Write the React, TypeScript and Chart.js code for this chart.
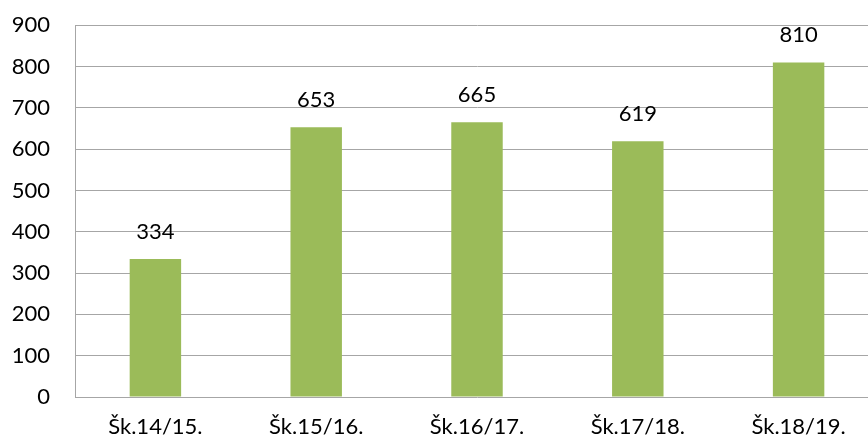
import React, { useEffect, useRef } from "react";
import { Chart, registerables } from "chart.js";

Chart.register(...registerables);

const categories = ["Šk.14/15.", "Šk.15/16.", "Šk.16/17.", "Šk.17/18.", "Šk.18/19."];
const values = [334, 653, 665, 619, 810];
const yTicks = [0, 100, 200, 300, 400, 500, 600, 700, 800, 900];

const FONT = "Lato, 'Open Sans', sans-serif";

const labelPlugin = {
  id: "barLabels",
  afterDatasetsDraw(chart: any) {
    const ctx = chart.ctx;
    const meta = chart.getDatasetMeta(0);
    ctx.save();
    ctx.fillStyle = "#000000";
    ctx.font = `22px ${FONT}`;
    ctx.textAlign = "center";
    ctx.textBaseline = "middle";
    meta.data.forEach((bar: any, i: number) => {
      ctx.fillText(String(values[i]), bar.x, bar.y - 27);
    });
    ctx.restore();
  },
};

export default function App() {
  const ref = useRef<HTMLCanvasElement>(null);
  useEffect(() => {
    if (!ref.current) return;
    const chart = new Chart(ref.current, {
      type: "bar",
      data: {
        labels: categories,
        datasets: [
          {
            data: values,
            backgroundColor: "#9BBB59",
            borderWidth: 0,
            categoryPercentage: 1,
            barPercentage: 0.32,
          },
        ],
      },
      options: {
        responsive: false,
        animation: false,
        layout: { padding: { top: 12, right: 1, left: 0, bottom: 0 } },
        plugins: { legend: { display: false }, tooltip: { enabled: false } },
        scales: {
          x: {
            grid: { display: false, drawTicks: false },
            border: { display: false },
            ticks: { color: "#000", font: { family: FONT, size: 22 }, padding: 17, maxRotation: 0 },
            afterFit: (s: any) => { s.height = 44; },
          },
          y: {
            min: 0,
            max: 900,
            afterBuildTicks: (s: any) => { s.ticks = yTicks.map((v) => ({ value: v })); },
            grid: { color: "#A6A6A6", lineWidth: 1, drawTicks: false },
            border: { display: true, color: "#A6A6A6", width: 1 },
            ticks: { color: "#000", font: { family: FONT, size: 22 }, padding: 25 },
            afterFit: (s: any) => { s.width = 75; },
          },
        },
      },
      plugins: [labelPlugin],
    });
    return () => chart.destroy();
  }, []);
  return (
    <div style={{ position: "fixed", left: 0, top: -13, width: 880, height: 454, background: "#fff" }}>
      <canvas ref={ref} width={880} height={454} />
    </div>
  );
}
